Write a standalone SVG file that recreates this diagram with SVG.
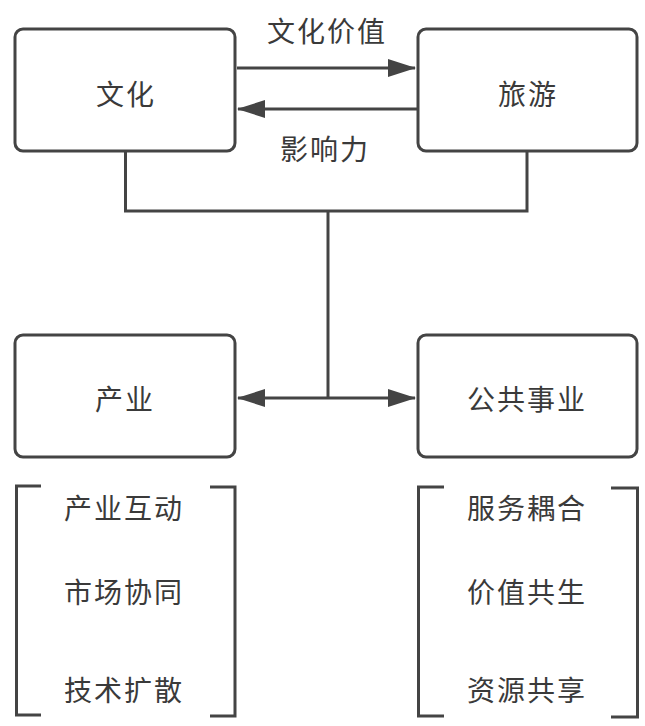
<svg xmlns="http://www.w3.org/2000/svg" width="645" height="726" viewBox="0 0 645 726">
<style>
.box{fill:#fff;stroke:#444;stroke-width:3}
.ln{fill:none;stroke:#444;stroke-width:3}
.t{font-family:"Noto Sans CJK SC","Noto Sans",sans-serif;font-size:28px;fill:#3a3a3a;text-anchor:middle;letter-spacing:2px}
</style>
<defs>
<marker id="ah" viewBox="0 0 28 18" refX="27" refY="9" markerWidth="28" markerHeight="18" markerUnits="userSpaceOnUse" orient="auto">
<path d="M0,0 L28,9 L0,18 Z" fill="#444"/>
</marker>
</defs>
<rect width="645" height="726" fill="#fff"/>
<g id="connectors">
<line class="ln" x1="237" y1="68" x2="415" y2="68" marker-end="url(#ah)"/>
<line class="ln" x1="417" y1="109" x2="238" y2="109" marker-end="url(#ah)"/>
<polyline class="ln" points="125.5,150 125.5,211 527,211 527,150"/>
<line class="ln" x1="328" y1="211" x2="328" y2="398"/>
<line class="ln" x1="328" y1="398" x2="238" y2="398" marker-end="url(#ah)"/>
<line class="ln" x1="328" y1="398" x2="415" y2="398" marker-end="url(#ah)"/>
<text class="t" x="327" y="41.5">文化价值</text>
<text class="t" x="325" y="159.5">影响力</text>
</g>
<g id="culture">
<rect class="box" x="15" y="29" width="220" height="122" rx="8"/>
<text class="t" x="126" y="105">文化</text>
</g>
<g id="tourism">
<rect class="box" x="418" y="29" width="219" height="122" rx="8"/>
<text class="t" x="528" y="105">旅游</text>
</g>
<g id="industry">
<rect class="box" x="15" y="335" width="220" height="122" rx="8"/>
<text class="t" x="125" y="409.5">产业</text>
</g>
<g id="public">
<rect class="box" x="418" y="335" width="219" height="122" rx="8"/>
<text class="t" x="527" y="409.5">公共事业</text>
</g>
<g id="industry-list">
<polyline class="ln" points="41,486 16.5,486 16.5,715 41,715"/>
<polyline class="ln" points="210,487 235,487 235,716 210,716"/>
<text class="t" x="124" y="518.5">产业互动</text>
<text class="t" x="124" y="602.5">市场协同</text>
<text class="t" x="124" y="700.5">技术扩散</text>
</g>
<g id="public-list">
<polyline class="ln" points="444,487 418.5,487 418.5,716 444,716"/>
<polyline class="ln" points="611,488 637.5,488 637.5,717 611,717"/>
<text class="t" x="527" y="518.5">服务耦合</text>
<text class="t" x="527" y="602.5">价值共生</text>
<text class="t" x="527" y="700.5">资源共享</text>
</g>
</svg>
